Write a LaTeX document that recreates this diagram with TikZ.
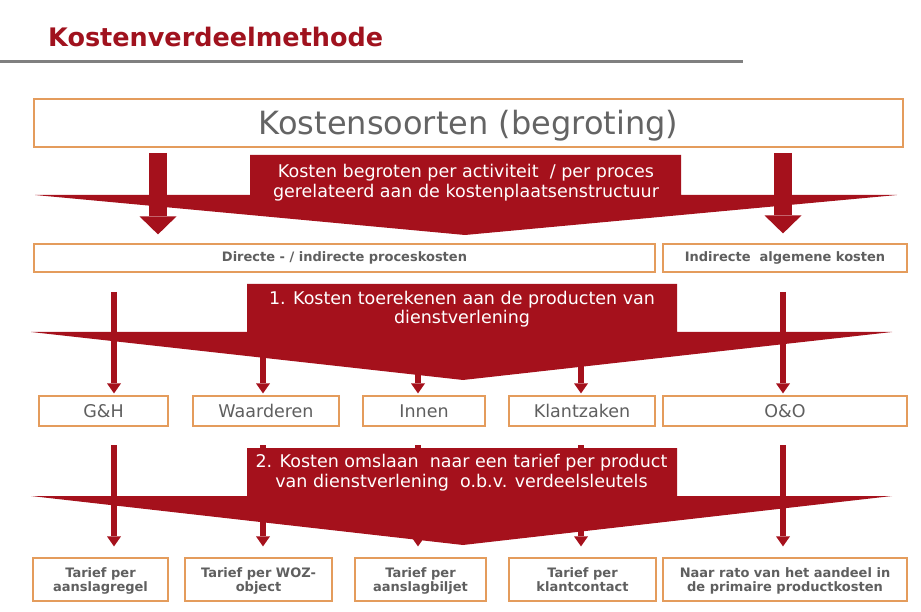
\documentclass[tikz,border=0pt]{standalone}
\usepackage{fontspec}
\setmainfont{DejaVu Sans}
\usepackage{tikz}
\usetikzlibrary{arrows.meta,positioning}

\definecolor{kred}{RGB}{165,17,28}
\definecolor{ktitle}{RGB}{160,18,30}
\definecolor{kborder}{RGB}{228,156,92}
\definecolor{ktext}{RGB}{95,95,95}

\begin{document}
\begin{tikzpicture}[x=1pt,y=-1pt,
        kbox/.style={draw=kborder,line width=1.2pt,fill=white,inner sep=0pt,
          text=ktext,align=center,anchor=center},
        smallbold/.style={font=\fontsize{13}{14.5}\selectfont\bfseries},
        tweeregel/.style={smallbold,text height=24pt,text depth=0pt},
        prodtext/.style={font=\fontsize{17.5}{19}\selectfont,text height=12.7pt,text depth=0pt},
        band/.style={fill=kred},
        bandtext/.style={text=white,align=center,font=\fontsize{17.5}{19.5}\selectfont},
        pijl/.style={draw=kred,line width=6pt,-{Triangle[width=14pt,length=10pt,line width=0pt]}},
        dikpijl/.style={draw=kred,line width=18pt,-{Triangle[width=37pt,length=18pt,line width=0pt]}}]
        \useasboundingbox (0,0) rectangle (921,612);

        % titel
        \node[anchor=base west,text=ktitle,inner sep=0pt,
          font=\fontsize{25.5}{30}\selectfont\bfseries] (titel) at (48,47) {Kostenverdeelmethode};
        \draw[color={rgb,255:red,128;green,128;blue,128},line width=3pt] (0,62) -- (743,62);

        % kostensoorten
        \node[kbox,minimum width=869pt,minimum height=48pt,text={rgb,255:red,100;green,100;blue,100},
          font=\fontsize{32}{36}\selectfont,text height=23.5pt,text depth=0pt] (soorten) at (468.5,123)
          {Kostensoorten (begroting)};

        % rij 2
        \node[kbox,smallbold,minimum width=621pt,minimum height=28pt] (direct) at (344.5,258)
          {Directe - / indirecte proceskosten};
        \node[kbox,smallbold,minimum width=244pt,minimum height=28pt] (indirect) at (785,258)
          {Indirecte~ algemene kosten};

        % rij 3
        \node[kbox,prodtext,minimum width=129pt,minimum height=30pt] (gh) at (103.5,411) {G\&H};
        \node[kbox,prodtext,minimum width=146pt,minimum height=30pt] (waard) at (266,411) {Waarderen};
        \node[kbox,prodtext,minimum width=122pt,minimum height=30pt] (innen) at (424,411) {Innen};
        \node[kbox,prodtext,minimum width=146pt,minimum height=30pt] (klant) at (582,411) {Klantzaken};
        \node[kbox,prodtext,minimum width=244pt,minimum height=30pt] (oeno) at (785,411) {O\&O};

        % rij 4
        \node[kbox,tweeregel,minimum width=135pt,minimum height=43pt] (tregel) at (100.5,579.5)
          {Tarief per\\aanslagregel};
        \node[kbox,tweeregel,minimum width=147pt,minimum height=43pt] (twoz) at (258.5,579.5)
          {Tarief per WOZ-\\object};
        \node[kbox,tweeregel,minimum width=131pt,minimum height=43pt] (tbiljet) at (420.5,579.5)
          {Tarief per\\aanslagbiljet};
        \node[kbox,tweeregel,minimum width=147pt,minimum height=43pt] (tcontact) at (582.5,579.5)
          {Tarief per\\klantcontact};
        \node[kbox,tweeregel,minimum width=244pt,minimum height=43pt] (trato) at (785,579.5)
          {Naar rato van het aandeel in\\de primaire productkosten};

        % pijlen naar rij 2
        \coordinate (d1) at (158,153);
        \coordinate (d2) at (783,153);
        \draw[dikpijl,shorten >=9pt] (d1) -- (d1 |- direct.north);
        \draw[dikpijl,shorten >=10pt] (d2) -- (d2 |- indirect.north);

        % pijlen naar rij 3
        \coordinate (p1) at (114,292);
        \coordinate (p2) at (263,292);
        \coordinate (p3) at (418,292);
        \coordinate (p4) at (581,292);
        \coordinate (p5) at (783,292);
        \draw[pijl,shorten >=2pt] (p1) -- (p1 |- gh.north);
        \draw[pijl,shorten >=2pt] (p2) -- (p2 |- waard.north);
        \draw[pijl,shorten >=2pt] (p3) -- (p3 |- innen.north);
        \draw[pijl,shorten >=2pt] (p4) -- (p4 |- klant.north);
        \draw[pijl,shorten >=2pt] (p5) -- (p5 |- oeno.north);

        % pijlen naar rij 4
        \coordinate (q1) at (114,445);
        \coordinate (q2) at (263,445);
        \coordinate (q3) at (418,445);
        \coordinate (q4) at (581,445);
        \coordinate (q5) at (783,445);
        \draw[pijl,shorten >=11pt] (q1) -- (q1 |- tregel.north);
        \draw[pijl,shorten >=11pt] (q2) -- (q2 |- twoz.north);
        \draw[pijl,shorten >=11pt] (q3) -- (q3 |- tbiljet.north);
        \draw[pijl,shorten >=11pt] (q4) -- (q4 |- tcontact.north);
        \draw[pijl,shorten >=11pt] (q5) -- (q5 |- trato.north);

        % brede pijlen
        \fill[band] (35,195) -- (250,195) -- (250,155) -- (681,155) -- (681,195) -- (897,195)
          -- (465,235) -- cycle;
        \node[bandtext] (stap0) at (466,182.5)
          {Kosten begroten per activiteit~ / per proces\\gerelateerd aan de kostenplaatsenstructuur};
        \fill[band] (31,332) -- (247,332) -- (247,284) -- (677,284) -- (677,332) -- (892,332)
          -- (463,380) -- cycle;
        \node[bandtext] (stap1) at (462,309)
          {1. Kosten toerekenen aan de producten van\\dienstverlening};
        \fill[band] (31,496) -- (247,496) -- (247,448) -- (677,448) -- (677,496) -- (892,496)
          -- (463,545) -- cycle;
        \node[bandtext] (stap2) at (461.5,472.5)
          {2. Kosten omslaan~ naar een tarief per product\\van dienstverlening~ o.b.v. verdeelsleutels};
    \end{tikzpicture}
\end{document}
